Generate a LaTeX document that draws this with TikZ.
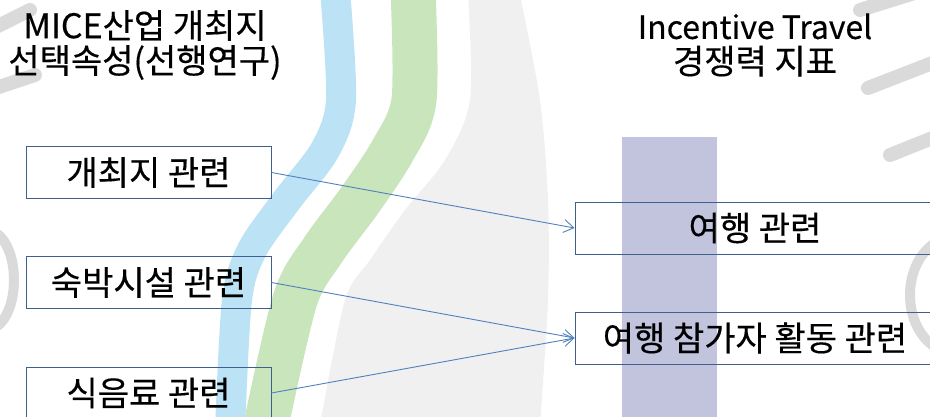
\documentclass[tikz,border=0pt]{standalone}
\usepackage{fontspec}
\setmainfont{Noto Sans CJK KR}[FakeBold=0.4]
\usetikzlibrary{arrows.meta}
\definecolor{boxline}{HTML}{3F5F8F}
\definecolor{arrowc}{HTML}{4F81BD}
\definecolor{wmblue}{HTML}{BCE2F5}
\definecolor{wmgreen}{HTML}{C9E5BC}
\definecolor{wmpurple}{HTML}{C2C4DE}
\definecolor{wmgray}{HTML}{F0F0F0}
\definecolor{wmdark}{HTML}{DADADA}
\tikzset{
  lbox/.style={draw=boxline, line width=0.9pt, minimum width=245pt, minimum height=52pt, inner sep=0pt,
    font=\fontsize{34}{40}\selectfont},
  rbox/.style={draw=boxline, line width=0.9pt, minimum width=360pt, minimum height=52pt, inner sep=0pt,
    font=\fontsize{34}{40}\selectfont},
  ttl/.style={align=center, inner sep=0pt, font=\fontsize{34}{35}\selectfont},
  conn/.style={draw=arrowc, line width=0.9pt, -{Straight Barb[length=10pt,width=13pt,line width=0.9pt]}}
}
\begin{document}
\begin{tikzpicture}[x=1pt,y=-1pt]
\useasboundingbox (0,0) rectangle (930,417);
\begin{scope}
\clip (0,0) rectangle (930,417);
% watermark
\fill[wmgray] plot[smooth] coordinates {(468,-5)(470,100)(445,160)(405,210)(370,260)(345,300)(320,425)}
  -- (540,425) -- plot[smooth] coordinates {(540,425)(548,300)(548,200)(540,100)(520,-5)} -- cycle;
\draw[wmblue, line width=30pt] plot[smooth] coordinates {(335,-10)(341,100)(325,150)(287,200)(252,250)(237,300)(230,430)};
\draw[wmgreen, line width=45pt] plot[smooth] coordinates {(413,-10)(414,100)(393,150)(360,200)(323,250)(295,300)(265,430)};
\fill[wmpurple] (622,137) rectangle (717,420);
\draw[wmdark, line width=14pt, line cap=round] (-10,30) -- (30,10);
\draw[wmdark, line width=14pt, line cap=round] (-10,90) -- (35,75);
\draw[wmdark, line width=10pt] (-10,230) .. controls (22,240) and (22,320) .. (-10,330);
\draw[wmdark, line width=14pt, line cap=round] (860,10) -- (940,-15);
\draw[wmdark, line width=14pt, line cap=round] (868,88) -- (940,60);
\draw[wmdark, line width=14pt, line cap=round] (890,155) -- (940,135);
\draw[wmdark, line width=10pt] (940,240) .. controls (900,260) and (900,330) .. (940,350);
\end{scope}
% titles
\node[ttl] (t1) at (145,45) {MICE산업 개최지\\선택속성(선행연구)};
\node[ttl] (t2) at (755,45) {{\fontsize{32}{35}\selectfont Incentive Travel}\\경쟁력 지표};
% boxes
\node[lbox] (a1) at (148.5,172.5) {개최지 관련};
\node[lbox] (a2) at (148.5,282.5) {숙박시설 관련};
\node[lbox] (a3) at (148.5,393) {식음료 관련};
\node[rbox] (b1) at (755,228) {여행 관련};
\node[rbox] (b2) at (755,338) {여행 참가자 활동 관련};
% connectors
\draw[conn] (a1.east) -- (b1.west);
\draw[conn] (a2.east) -- (b2.west);
\draw[conn] (a3.east) -- (b2.west);
\end{tikzpicture}
\end{document}
